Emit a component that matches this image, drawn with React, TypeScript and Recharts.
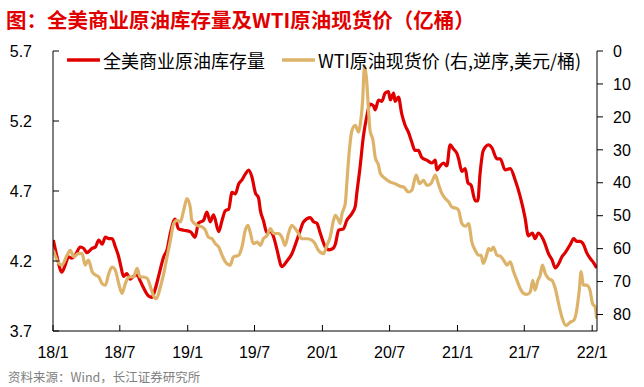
import React from "react";
import { LineChart, Line, XAxis, YAxis, Legend } from "recharts";

// 全美商业原油库存量（亿桶），周度
const stockDates = [
  "2018-01-02", "2018-01-12", "2018-01-25", "2018-02-03", "2018-02-12", "2018-02-21", "2018-03-02", "2018-03-16",
  "2018-03-25", "2018-04-03", "2018-04-17", "2018-04-26", "2018-05-05", "2018-05-14", "2018-05-23", "2018-06-01",
  "2018-06-10", "2018-06-19", "2018-06-28", "2018-07-04", "2018-07-11", "2018-07-20", "2018-07-29", "2018-08-07",
  "2018-08-17", "2018-08-25", "2018-09-03", "2018-09-17", "2018-09-26", "2018-10-05", "2018-10-14", "2018-10-28",
  "2018-11-06", "2018-11-15", "2018-11-28", "2018-12-07", "2018-12-21", "2019-01-08", "2019-01-21", "2019-01-30",
  "2019-02-13", "2019-02-22", "2019-03-03", "2019-03-12", "2019-03-26", "2019-04-04", "2019-04-13", "2019-04-22",
  "2019-05-01", "2019-05-10", "2019-05-19", "2019-05-28", "2019-06-06", "2019-06-15", "2019-06-24", "2019-07-03",
  "2019-07-12", "2019-07-17", "2019-07-25", "2019-08-04", "2019-08-13", "2019-08-22", "2019-08-31", "2019-09-13",
  "2019-09-27", "2019-10-10", "2019-10-24", "2019-11-02", "2019-11-11", "2019-11-29", "2019-12-08", "2019-12-17",
  "2019-12-26", "2020-01-09", "2020-01-19", "2020-01-30", "2020-02-05", "2020-02-14", "2020-02-27", "2020-03-07",
  "2020-03-21", "2020-03-30", "2020-04-03", "2020-04-12", "2020-04-21", "2020-04-30", "2020-05-09", "2020-05-18",
  "2020-05-23", "2020-06-01", "2020-06-10", "2020-06-19", "2020-06-28", "2020-07-03", "2020-07-12", "2020-07-16",
  "2020-07-25", "2020-08-03", "2020-08-12", "2020-08-21", "2020-08-30", "2020-09-08", "2020-09-17", "2020-09-26",
  "2020-10-10", "2020-10-24", "2020-11-02", "2020-11-06", "2020-11-15", "2020-11-24", "2020-12-03", "2020-12-12",
  "2020-12-21", "2020-12-30", "2021-01-04", "2021-01-13", "2021-01-22", "2021-01-29", "2021-02-07", "2021-02-18",
  "2021-02-25", "2021-03-03", "2021-03-12", "2021-03-26", "2021-04-04", "2021-04-18", "2021-04-27", "2021-05-10",
  "2021-05-24", "2021-06-06", "2021-06-20", "2021-07-03", "2021-07-12", "2021-07-23", "2021-07-30", "2021-08-08",
  "2021-08-22", "2021-09-05", "2021-09-14", "2021-09-23", "2021-10-02", "2021-10-11", "2021-10-20", "2021-11-03",
  "2021-11-12", "2021-11-20", "2021-11-29", "2021-12-08", "2021-12-17", "2021-12-26", "2022-01-04", "2022-01-13",
];
const stockValues = [
  4.35, 4.23, 4.12, 4.17, 4.23, 4.22, 4.24, 4.30,
  4.29, 4.26, 4.29, 4.30, 4.35, 4.32, 4.37, 4.36,
  4.36, 4.30, 4.23, 4.16, 4.09, 4.11, 4.07, 4.09,
  4.10, 4.06, 4.01, 3.95, 3.94, 4.00, 4.09, 4.23,
  4.28, 4.40, 4.50, 4.43, 4.42, 4.41, 4.37, 4.47,
  4.49, 4.55, 4.48, 4.53, 4.41, 4.49, 4.56, 4.57,
  4.69, 4.68, 4.75, 4.78, 4.82, 4.85, 4.80, 4.69,
  4.65, 4.56, 4.49, 4.40, 4.41, 4.37, 4.28, 4.16,
  4.20, 4.25, 4.35, 4.42, 4.48, 4.51, 4.48, 4.47,
  4.40, 4.30, 4.28, 4.29, 4.32, 4.42, 4.43, 4.49,
  4.54, 4.59, 4.68, 4.87, 5.09, 5.23, 5.32, 5.31,
  5.28, 5.35, 5.34, 5.40, 5.41, 5.35, 5.40, 5.34,
  5.37, 5.25, 5.17, 5.12, 5.05, 4.99, 4.99, 4.94,
  4.92, 4.90, 4.92, 4.85, 4.88, 4.90, 4.88, 5.03,
  5.00, 4.97, 4.93, 4.84, 4.86, 4.76, 4.74, 4.63,
  4.63, 4.82, 4.99, 5.03, 5.01, 4.93, 4.93, 4.85,
  4.86, 4.78, 4.66, 4.51, 4.38, 4.40, 4.36, 4.40,
  4.35, 4.25, 4.21, 4.15, 4.18, 4.23, 4.26, 4.32,
  4.36, 4.34, 4.34, 4.32, 4.26, 4.22, 4.19, 4.15,
];

// WTI原油现货价（美元/桶）
const wtiDates = [
  "2018-01-02", "2018-01-12", "2018-01-25", "2018-02-08", "2018-02-17", "2018-02-26", "2018-03-11", "2018-03-21",
  "2018-03-29", "2018-04-07", "2018-04-17", "2018-04-26", "2018-05-05", "2018-05-14", "2018-05-23", "2018-06-01",
  "2018-06-10", "2018-06-19", "2018-06-28", "2018-07-07", "2018-07-16", "2018-07-25", "2018-08-07", "2018-08-17",
  "2018-08-25", "2018-09-03", "2018-09-13", "2018-09-22", "2018-09-30", "2018-10-08", "2018-10-19", "2018-10-28",
  "2018-11-06", "2018-11-15", "2018-11-24", "2018-12-03", "2018-12-12", "2018-12-21", "2018-12-30", "2019-01-08",
  "2019-01-12", "2019-01-26", "2019-02-09", "2019-02-18", "2019-02-26", "2019-03-08", "2019-03-17", "2019-03-26",
  "2019-04-04", "2019-04-13", "2019-04-26", "2019-05-05", "2019-05-19", "2019-05-28", "2019-06-06", "2019-06-13",
  "2019-06-19", "2019-06-28", "2019-07-08", "2019-07-17", "2019-07-25", "2019-08-04", "2019-08-13", "2019-08-22",
  "2019-09-04", "2019-09-13", "2019-09-22", "2019-10-01", "2019-10-10", "2019-10-19", "2019-10-28", "2019-11-06",
  "2019-11-20", "2019-12-04", "2019-12-12", "2019-12-21", "2020-01-04", "2020-01-13", "2020-01-22", "2020-01-31",
  "2020-02-05", "2020-02-14", "2020-02-18", "2020-02-23", "2020-03-03", "2020-03-07", "2020-03-14", "2020-03-21",
  "2020-03-30", "2020-04-08", "2020-04-12", "2020-04-19", "2020-04-24", "2020-04-29", "2020-05-05", "2020-05-09",
  "2020-05-17", "2020-05-23", "2020-06-01", "2020-06-06", "2020-06-19", "2020-07-03", "2020-07-16", "2020-07-30",
  "2020-08-08", "2020-08-21", "2020-08-30", "2020-09-11", "2020-09-20", "2020-10-01", "2020-10-10", "2020-10-21",
  "2020-11-02", "2020-11-10", "2020-11-20", "2020-11-29", "2020-12-08", "2020-12-17", "2020-12-30", "2021-01-04",
  "2021-01-13", "2021-01-22", "2021-01-31", "2021-02-09", "2021-02-18", "2021-02-27", "2021-03-06", "2021-03-12",
  "2021-03-22", "2021-03-26", "2021-04-02", "2021-04-08", "2021-04-18", "2021-04-27", "2021-05-06", "2021-05-15",
  "2021-05-24", "2021-06-02", "2021-06-11", "2021-06-20", "2021-06-29", "2021-07-08", "2021-07-17", "2021-07-24",
  "2021-07-30", "2021-08-07", "2021-08-13", "2021-08-19", "2021-08-27", "2021-09-05", "2021-09-14", "2021-09-23",
  "2021-10-02", "2021-10-11", "2021-10-22", "2021-11-03", "2021-11-12", "2021-11-20", "2021-11-27", "2021-12-02",
  "2021-12-08", "2021-12-17", "2021-12-26", "2022-01-02", "2022-01-09", "2022-01-13",
];
const wtiValues = [
  60.5, 63.5, 65, 62, 60.5, 62.5, 61.5, 61.5,
  65, 63.5, 67, 68, 68.6, 70.6, 71.1, 67.6,
  65.6, 66.6, 70.6, 73.6, 70.6, 68.6, 68.6, 66,
  68.6, 68.6, 69, 71.6, 74.2, 75.2, 71.6, 67.6,
  62.5, 57.5, 52.4, 51.4, 51.9, 48.4, 44.8, 47.5,
  51.4, 52.9, 53.4, 54.4, 56.5, 57, 58.5, 59.5,
  62, 64, 65, 62.5, 62, 59.5, 54.4, 52.9,
  54.9, 58.5, 58, 59, 57, 56, 53.9, 55.4,
  55.4, 56.5, 59, 55.4, 52.9, 53.9, 55.4, 57,
  57, 57.5, 58.5, 60.5, 61.5, 59, 56.5, 51.4,
  49.9, 51.4, 52.4, 49.4, 46.3, 40.3, 30.1, 24.1,
  22.6, 24.6, 22.6, 15, 4.5, 7.9, 18, 24.1,
  27.1, 32.2, 34.7, 37.2, 38.7, 39.8, 40.3, 41.1,
  41.3, 42.8, 42.3, 37.7, 40.3, 39.3, 40.8, 40.3,
  37.7, 40.3, 43.3, 44.8, 45.8, 47.4, 47.8, 48.4,
  52.4, 53.2, 52.4, 58, 60.5, 62, 62, 64.5,
  61.5, 60, 60.5, 59.5, 62, 62.3, 63.5, 65,
  64, 67, 69.6, 72.1, 73.6, 73.9, 73.2, 69.6,
  72.6, 69.6, 68.1, 65, 67.6, 69.1, 69.6, 72.1,
  76.7, 80.8, 83.3, 82.3, 81.8, 78.7, 72.6, 67,
  71.1, 71.1, 72.6, 76.7, 77.7, 81.2,
];

const xTickLabels = ["18/1", "18/7", "19/1", "19/7", "20/1", "20/7", "21/1", "21/7", "22/1"];
const leftTicks = [3.7, 4.2, 4.7, 5.2, 5.7];
const rightTicks = [0, 10, 20, 30, 40, 50, 60, 70, 80];

const RED = "#E00000";
const TAN = "#DDB36A";
const CJK = '"Noto Sans CJK SC", "Noto Sans", sans-serif';
const LATIN = '"Liberation Sans", Arial, sans-serif';

const toTs = (label: string) => {
  const [yy, m] = label.split("/").map(Number);
  return Date.UTC(2000 + yy, m - 1, 1);
};
const xTicks = xTickLabels.map(toTs);
const fmtX = (t: number) => {
  const d = new Date(t);
  return `${d.getUTCFullYear() % 100}/${d.getUTCMonth() + 1}`;
};

const stockData = stockDates.map((d, i) => ({ t: Date.parse(d), v: stockValues[i] }));
const wtiData = wtiDates.map((d, i) => ({ t: Date.parse(d), v: wtiValues[i] }));

function LegendBox() {
  const item = (left: number, color: string, text: string) => (
    <div style={{ position: "absolute", left, top: 0, display: "flex", alignItems: "center", height: 24 }}>
      <svg width={33} height={6} style={{ marginRight: 3 }}>
        <line x1={1} y1={3} x2={32} y2={3} stroke={color} strokeWidth={3.5} strokeLinecap="round" />
      </svg>
      <span style={{ fontFamily: CJK, fontSize: 18, color: "#000", whiteSpace: "nowrap" }}>{text}</span>
    </div>
  );
  return (
    <div style={{ position: "relative", width: 644, height: 24 }}>
      {item(67, RED, "全美商业原油库存量")}
      {item(282, TAN, "WTI原油现货价 (右,逆序,美元/桶)")}
    </div>
  );
}

export default function App() {
  return (
    <div style={{ position: "absolute", left: 0, top: 0, width: 644, height: 387, background: "#fff" }}>
      <div style={{ position: "absolute", left: 6, top: 6, fontFamily: CJK, fontWeight: 700, fontSize: 20.5, lineHeight: "26px", color: RED, whiteSpace: "nowrap" }}>
        图：全美商业原油库存量及WTI原油现货价（亿桶）
      </div>

      <LineChart width={644} height={387} margin={{ top: 51, right: 0, bottom: 26, left: 0 }}>
        <XAxis
          dataKey="t"
          type="number"
          domain={[Date.UTC(2018, 0, 1), Date.UTC(2022, 0, 14)]}
          ticks={xTicks}
          tickFormatter={fmtX}
          allowDataOverflow
          height={30}
          tickSize={-6}
          tickMargin={22}
          axisLine={{ stroke: "#000" }}
          tickLine={{ stroke: "#000" }}
          tick={{ fontSize: 16, fill: "#000", fontFamily: LATIN }}
          interval={0}
        />
        <YAxis
          yAxisId="left"
          domain={[3.7, 5.7]}
          ticks={leftTicks}
          tickFormatter={(v: number) => v.toFixed(1)}
          width={53}
          tickSize={-6}
          tickMargin={27}
          axisLine={{ stroke: "#000" }}
          tickLine={{ stroke: "#000" }}
          tick={{ fontSize: 16, fill: "#000", fontFamily: LATIN }}
          interval={0}
        />
        <YAxis
          yAxisId="right"
          orientation="right"
          reversed
          domain={[0, 85]}
          ticks={rightTicks}
          width={47}
          tickSize={6}
          tickMargin={10}
          axisLine={{ stroke: "#000" }}
          tickLine={{ stroke: "#000" }}
          tick={{ fontSize: 16, fill: "#000", fontFamily: LATIN }}
          interval={0}
        />
        <Legend
          layout="horizontal"
          verticalAlign="middle"
          align="center"
          wrapperStyle={{ top: 48, left: 0, width: 644, height: 24 }}
          content={() => <LegendBox />}
        />
        <Line
          yAxisId="left"
          data={stockData}
          dataKey="v"
          name="全美商业原油库存量"
          type="monotone"
          stroke={RED}
          strokeWidth={3.2}
          dot={false}
          isAnimationActive={false}
        />
        <Line
          yAxisId="right"
          data={wtiData}
          dataKey="v"
          name="WTI原油现货价"
          type="monotone"
          stroke={TAN}
          strokeWidth={3.2}
          dot={false}
          isAnimationActive={false}
        />
      </LineChart>

      <div style={{ position: "absolute", left: 8, top: 369, fontFamily: CJK, fontSize: 12.5, lineHeight: "16px", color: "#808080", whiteSpace: "nowrap" }}>
        资料来源：Wind，长江证券研究所
      </div>
    </div>
  );
}
